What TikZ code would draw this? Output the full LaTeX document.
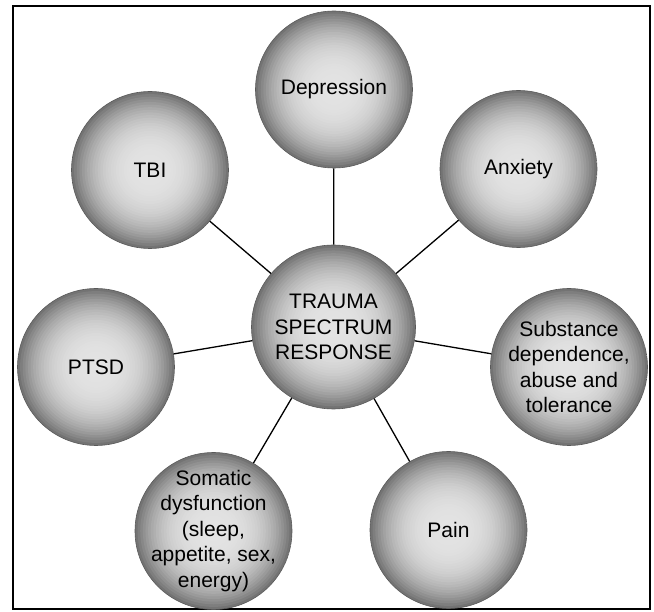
\documentclass[tikz,border=0pt]{standalone}
\usepackage{fontspec}
\setmainfont{Liberation Sans}
\begin{document}
\begin{tikzpicture}[x=1pt,y=-1pt,
  ball/.style={circle, draw=black!65, line width=0.6pt, inner sep=0pt,
    minimum size=2*#1,
    path picture={
      \foreach \kk in {0,...,29}{
        \pgfmathsetmacro\rr{1-\kk/30}
        \pgfmathsetmacro\pp{11+44*\rr*\rr*\rr}
        \fill[black!\pp] (path picture bounding box.center) circle ({\rr*#1});
      }}},
  ball/.default=78.5pt,
  lbl/.style={align=center, inner sep=0pt, font=\fontsize{21}{25.5}\selectfont},
  link/.style={draw=black, line width=1.3pt}]
\useasboundingbox (0,0) rectangle (654,612);
\draw[line width=1.5pt] (13,6) rectangle (650,609);
\node[ball=82pt] (c) at (333.5,327) {};
\node[ball] (dep) at (334,89.5) {};
\node[ball] (tbi) at (150,170) {};
\node[ball] (anx) at (518.5,169) {};
\node[ball] (ptsd) at (96,367) {};
\node[ball] (sub) at (569,367) {};
\node[ball] (som) at (213.5,531) {};
\node[ball] (pain) at (448.5,530) {};
\node[lbl] (ct) at (c.center) {TRAUMA\\SPECTRUM\\RESPONSE};
\node[lbl] (dept) at (dep.center) {Depression};
\node[lbl] (tbit) at (tbi.center) {TBI};
\node[lbl] (anxt) at (anx.center) {Anxiety};
\node[lbl] (ptsdt) at (ptsd.center) {PTSD};
\node[lbl] (subt) at (sub.center) {Substance\\dependence,\\abuse and\\tolerance};
\node[lbl] (somt) at (som.center) {Somatic\\dysfunction\\(sleep,\\appetite, sex,\\energy)};
\node[lbl] (paint) at (pain.center) {Pain};
\foreach \n in {dep,tbi,anx,ptsd,sub,som,pain}
  \draw[link] (c) -- (\n);
\end{tikzpicture}
\end{document}
